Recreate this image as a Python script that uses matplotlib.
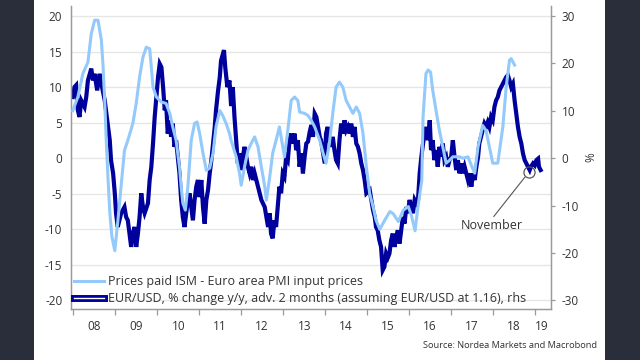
import matplotlib
matplotlib.use("Agg")
import matplotlib.pyplot as plt
from matplotlib.lines import Line2D
from matplotlib.patches import Rectangle

plt.rcParams['font.family'] = ['Open Sans', 'DejaVu Sans']
plt.rcParams['axes.unicode_minus'] = False

# Prices paid ISM - Euro area PMI input prices (lhs), decimal year / value
ism_t = [2007.99, 2008.11, 2008.23, 2008.35, 2008.43, 2008.51, 2008.59, 2008.67, 2008.71, 2008.75,
         2008.79, 2008.83, 2008.87, 2008.92, 2008.99, 2009.06, 2009.14, 2009.22, 2009.30, 2009.42,
         2009.50, 2009.58, 2009.66, 2009.74, 2009.82, 2009.86, 2009.90, 2009.98, 2010.10, 2010.21,
         2010.30, 2010.37, 2010.45, 2010.53, 2010.57, 2010.61, 2010.67, 2010.73, 2010.81, 2010.89,
         2010.95, 2011.01, 2011.09, 2011.17, 2011.25, 2011.33, 2011.40, 2011.49, 2011.56, 2011.64,
         2011.72, 2011.76, 2011.88, 2011.96, 2012.00, 2012.08, 2012.16, 2012.24, 2012.32, 2012.40,
         2012.48, 2012.56, 2012.60, 2012.68, 2012.75, 2012.83, 2012.91, 2012.99, 2013.03, 2013.11,
         2013.19, 2013.27, 2013.35, 2013.39, 2013.51, 2013.59, 2013.67, 2013.75, 2013.87, 2013.95,
         2014.02, 2014.10, 2014.18, 2014.26, 2014.34, 2014.42, 2014.50, 2014.58, 2014.66, 2014.74,
         2014.82, 2014.90, 2014.98, 2015.06, 2015.14, 2015.21, 2015.30, 2015.42, 2015.54, 2015.62,
         2015.74, 2015.86, 2015.98, 2016.06, 2016.14, 2016.21, 2016.30, 2016.33, 2016.40, 2016.45,
         2016.51, 2016.56, 2016.64, 2016.72, 2016.80, 2016.88, 2016.96, 2017.04, 2017.20, 2017.28,
         2017.40, 2017.48, 2017.56, 2017.64, 2017.75, 2017.83, 2017.91, 2017.99, 2018.11, 2018.23,
         2018.31, 2018.39, 2018.43, 2018.51]
ism_v = [6.7, 8.6, 11.9, 13.5, 17.5, 19.4, 19.4, 16.6, 13.0, 8.0,
         2.0, -3.0, -7.5, -11.0, -13.0, -9.0, -4.0, 1.1, 2.5, 4.9,
         7.7, 11.4, 14.2, 15.6, 15.4, 12.8, 10.0, 8.6, 7.9, 7.7,
         6.3, 4.4, 2.5, -1.2, -4.0, -6.3, -7.3, -4.0, 2.5, 4.9,
         5.1, 3.5, 0.7, -1.7, -1.4, 0.7, 4.4, 6.7, 6.0, 4.9,
         3.5, 2.5, 0.2, -2.1, -3.8, -1.2, 1.1, 2.1, 3.0, 1.6,
         -1.2, -4.0, -5.9, -2.6, 0.7, 2.5, 4.4, 1.6, 0.2, 3.9,
         8.1, 8.6, 8.1, 6.5, 6.3, 6.0, 5.3, 4.4, 2.5, 0.7,
         -0.7, 2.1, 6.3, 10.0, 10.7, 10.0, 8.1, 7.2, 6.3, 7.2,
         6.3, 3.5, -1.2, -5.0, -6.8, -8.7, -10.0, -8.7, -7.5, -7.8,
         -8.9, -7.3, -6.8, -8.2, -10.2, -6.8, -3.1, 5.8, 11.9, 12.4,
         12.1, 9.6, 6.7, 3.9, 1.6, -0.7, -0.3, 0.2, 0.2, 0.0,
         0.2, -1.0, -2.1, 1.6, 4.6, 3.9, 1.6, -0.7, -0.7, 4.4,
         10.0, 13.8, 14.0, 13.1]

# EUR/USD % change y/y, advanced 2 months (rhs), decimal year / value
eur_t = [2007.99, 2008.03, 2008.07, 2008.11, 2008.15, 2008.19, 2008.27, 2008.31, 2008.35, 2008.43,
         2008.47, 2008.51, 2008.57, 2008.63, 2008.67, 2008.75, 2008.79, 2008.83, 2008.87, 2008.90,
         2008.95, 2008.99, 2009.02, 2009.06, 2009.10, 2009.14, 2009.22, 2009.26, 2009.30, 2009.34,
         2009.38, 2009.42, 2009.46, 2009.50, 2009.54, 2009.58, 2009.62, 2009.66, 2009.70, 2009.78,
         2009.82, 2009.86, 2009.90, 2009.94, 2009.98, 2010.02, 2010.06, 2010.10, 2010.14, 2010.18,
         2010.21, 2010.25, 2010.30, 2010.33, 2010.37, 2010.41, 2010.45, 2010.49, 2010.53, 2010.57,
         2010.61, 2010.65, 2010.69, 2010.73, 2010.77, 2010.81, 2010.85, 2010.89, 2010.93, 2010.97,
         2011.01, 2011.05, 2011.09, 2011.13, 2011.17, 2011.21, 2011.25, 2011.29, 2011.33, 2011.37,
         2011.40, 2011.45, 2011.49, 2011.52, 2011.59, 2011.62, 2011.67, 2011.72, 2011.76, 2011.80,
         2011.84, 2011.88, 2011.92, 2011.96, 2012.00, 2012.04, 2012.08, 2012.12, 2012.16, 2012.20,
         2012.24, 2012.28, 2012.32, 2012.40, 2012.48, 2012.56, 2012.60, 2012.64, 2012.68, 2012.71,
         2012.75, 2012.79, 2012.83, 2012.87, 2012.91, 2012.95, 2012.99, 2013.03, 2013.07, 2013.11,
         2013.15, 2013.19, 2013.23, 2013.27, 2013.31, 2013.35, 2013.39, 2013.43, 2013.47, 2013.51,
         2013.55, 2013.59, 2013.63, 2013.67, 2013.71, 2013.75, 2013.79, 2013.83, 2013.87, 2013.90,
         2013.95, 2013.99, 2014.02, 2014.06, 2014.10, 2014.14, 2014.18, 2014.22, 2014.26, 2014.30,
         2014.34, 2014.38, 2014.42, 2014.46, 2014.50, 2014.54, 2014.58, 2014.62, 2014.66, 2014.70,
         2014.74, 2014.78, 2014.82, 2014.86, 2014.90, 2014.94, 2014.98, 2015.06, 2015.10, 2015.14,
         2015.18, 2015.21, 2015.25, 2015.29, 2015.33, 2015.37, 2015.41, 2015.45, 2015.49, 2015.53,
         2015.57, 2015.61, 2015.65, 2015.69, 2015.73, 2015.77, 2015.81, 2015.85, 2015.89, 2015.93,
         2015.97, 2016.01, 2016.05, 2016.09, 2016.13, 2016.17, 2016.21, 2016.25, 2016.29, 2016.33,
         2016.37, 2016.40, 2016.45, 2016.49, 2016.52, 2016.56, 2016.60, 2016.64, 2016.68, 2016.72,
         2016.76, 2016.80, 2016.84, 2016.88, 2016.92, 2016.96, 2017.00, 2017.04, 2017.08, 2017.12,
         2017.16, 2017.20, 2017.24, 2017.28, 2017.32, 2017.40, 2017.44, 2017.48, 2017.52, 2017.56,
         2017.60, 2017.64, 2017.67, 2017.71, 2017.75, 2017.79, 2017.83, 2017.87, 2017.91, 2017.95,
         2017.99, 2018.03, 2018.07, 2018.11, 2018.15, 2018.19, 2018.23, 2018.27, 2018.31, 2018.35,
         2018.39, 2018.43, 2018.47, 2018.51, 2018.55, 2018.59, 2018.63, 2018.67, 2018.71, 2018.75,
         2018.79, 2018.83, 2018.87, 2018.90, 2018.95, 2018.99, 2019.03, 2019.07, 2019.09, 2019.13]
eur_v = [12.9, 15.0, 15.4, 10.1, 8.7, 12.2, 10.8, 12.9, 16.4, 18.9,
         16.4, 17.8, 14.3, 17.8, 15.7, 12.2, 9.4, 6.6, 3.8, -0.4,
         -3.2, -7.4, -11.6, -14.5, -13.1, -11.6, -10.3, -12.4, -13.1, -15.9,
         -18.7, -15.9, -14.5, -18.7, -15.9, -12.4, -7.4, -10.3, -11.6, -9.5,
         -4.6, -1.8, 3.1, 8.7, 12.9, 17.1, 19.9, 19.2, 15.0, 10.1,
         12.2, 5.2, 8.0, 4.5, 7.3, 2.4, 3.8, 0.3, -3.2, -8.8,
         -12.4, -14.5, -11.6, -8.8, -7.4, -10.3, -13.1, -8.8, -6.0, -4.6,
         -8.2, -4.6, -10.3, -13.8, -8.8, -6.7, -3.2, -0.4, 3.1, 6.6,
         10.1, 14.3, 17.1, 20.6, 22.8, 19.2, 15.0, 16.4, 11.0, 15.0,
         8.7, 3.8, -1.1, 1.0, -2.5, 0.3, 2.4, 0.3, -1.8, -3.2,
         -1.8, -4.6, -3.2, -6.0, -8.8, -10.3, -12.4, -14.5, -11.6, -15.9,
         -16.9, -13.1, -14.5, -10.3, -6.0, -7.4, -3.2, -3.9, 0.3, -0.4,
         3.8, 5.2, 3.1, 5.2, 1.7, 3.8, -1.8, 1.0, -3.2, 0.3,
         3.1, 3.5, 5.5, 7.0, 4.5, 9.4, 8.7, 6.6, 4.5, 3.8,
         1.0, -1.1, 5.2, 6.6, 3.8, 2.4, 4.5, 1.7, -0.4, -1.1,
         3.8, 7.3, 5.2, 8.0, 5.9, 6.6, 5.2, 7.3, 4.5, 6.6,
         3.1, 2.4, 1.0, -1.1, -2.5, -4.6, -7.4, -6.7, -8.8, -11.0,
         -12.4, -14.5, -15.2, -17.3, -18.7, -23.6, -22.9, -20.1, -21.0, -20.1,
         -17.3, -15.9, -18.7, -16.6, -15.2, -18.0, -15.2, -12.4, -13.8, -10.3,
         -11.6, -8.8, -10.3, -11.6, -8.8, -9.5, -8.8, -3.2, 0.3, 3.1,
         5.2, 6.6, 3.8, 8.0, 1.7, 3.8, -0.4, 1.7, -1.8, 2.4,
         0.3, 3.1, -0.4, 0.3, -1.8, -0.4, 0.3, 3.8, 0.3, -2.5,
         -0.4, -3.2, -1.1, -3.2, -1.8, -4.6, -3.2, -6.0, -3.2, -4.6,
         -1.8, 0.3, 3.1, 4.5, 5.9, 7.3, 6.6, 7.6, 6.6, 8.7,
         8.0, 10.8, 12.2, 12.9, 14.3, 15.0, 15.7, 16.4, 17.1, 17.5,
         16.4, 15.0, 15.7, 12.2, 9.4, 6.6, 4.5, 3.1, 1.0, -0.4,
         -1.1, -1.8, -2.5, -1.8, -1.1, -1.5, -0.4, -0.1, -1.8, -2.5]

year_ticks = list(range(2008, 2020))
year_labels = ['08', '09', '10', '11', '12', '13', '14', '15', '16', '17', '18', '19']
left_ticks = [-20, -15, -10, -5, 0, 5, 10, 15, 20]
right_ticks = [-30, -20, -10, 0, 10, 20, 30]

LIGHT = '#93c9fb'
NAVY = '#00009c'
GRID = '#e6e6e6'
SPINE = '#9a9a9a'
TXT = '#333333'

fig = plt.figure(figsize=(6.4, 3.6), dpi=100, facecolor='#2a2d3a')
fig.patches.append(Rectangle((34/640, 0), (605-34)/640, 1, transform=fig.transFigure,
                             facecolor='white', edgecolor='none', zorder=-5))

ax = fig.add_axes([70.7/640, 1-309/360, 480/640, 303/360])
ax2 = ax.twinx()
ax.set_zorder(ax2.get_zorder() + 1)
ax.patch.set_visible(False)
ax2.patch.set_visible(False)

xlim = (2007.94, 2019.37)
ax.set_xlim(*xlim)
ax.set_ylim(-21.2, 21.4)
ax2.set_ylim(-31.8, 32.1)

# grid lines (drawn on ax2 below the series)
for v in left_ticks:
    ax2.axhline(v * 1.5, color=GRID, lw=1.0, zorder=0)

ax2.plot(eur_t, eur_v, color=NAVY, lw=3.0, solid_joinstyle='miter', zorder=2)
ax.plot(ism_t, ism_v, color=LIGHT, lw=2.2, zorder=3)

# axes styling
for a in (ax, ax2):
    a.spines['top'].set_visible(False)
    for s in ('left', 'right', 'bottom'):
        a.spines[s].set_color(SPINE)
        a.spines[s].set_linewidth(0.9)

ax.set_yticks(left_ticks)
ax.set_yticklabels([str(v) for v in left_ticks])
ax.tick_params(axis='y', length=0, pad=6, labelsize=8.5, labelcolor=TXT)

ax2.set_yticks(right_ticks)
ax2.set_yticklabels([str(v) for v in right_ticks])
ax2.tick_params(axis='y', length=3, width=0.9, color=SPINE, pad=5, labelsize=8.5, labelcolor=TXT)
ax2.set_ylabel('%', fontsize=8.5, color=TXT, labelpad=4)

ax.set_xticks(year_ticks)
ax.set_xticklabels([])
ax.tick_params(axis='x', length=4, width=0.9, color=SPINE)
mids = [y + 0.5 for y in year_ticks[:-1]] + [(year_ticks[-1] + xlim[1]) / 2 - 0.03]
ax.set_xticks(mids, minor=True)
ax.set_xticklabels(year_labels, minor=True)
ax.tick_params(axis='x', which='minor', length=0, pad=8, labelsize=8.5, labelcolor=TXT)
ax2.tick_params(axis='x', which='both', length=0)

# legend
h1 = Line2D([], [], color=LIGHT, lw=2.2)
h2a = Line2D([], [], color=NAVY, lw=5.0)
h2b = Line2D([], [], color='white', lw=1.0)
leg = ax.legend([h1, (h2a, h2b)],
                ['Prices paid ISM - Euro area PMI input prices',
                 'EUR/USD, % change y/y, adv. 2 months (assuming EUR/USD at 1.16), rhs'],
                loc='lower left', bbox_to_anchor=(0.0, 0.0), frameon=False,
                fontsize=9, handlelength=2.4, handletextpad=0.25,
                borderpad=0.2, borderaxespad=0.1, labelspacing=0.35)
for t in leg.get_texts():
    t.set_color(TXT)

# November marker and annotation
nov_t = [2018.85]
nov_v = [-2.9]
ax2.plot(nov_t, nov_v, marker='o', ms=8, mfc='none', mec='#555555', mew=0.9, zorder=5)
ax2.annotate('November', xy=(2018.755, -4.0), xytext=(2017.96, -12.9),
             ha='center', va='top', fontsize=9, color=TXT,
             arrowprops=dict(arrowstyle='-', color='#555555', lw=0.8,
                             shrinkA=0, shrinkB=0, relpos=(0.5, 1.0)))

fig.text(596.7/640, 1-345/360, 'Source: Nordea Markets and Macrobond',
         ha='right', va='center', fontsize=6.7, color=TXT)

fig.savefig('out.png', dpi=100, facecolor=fig.get_facecolor())
